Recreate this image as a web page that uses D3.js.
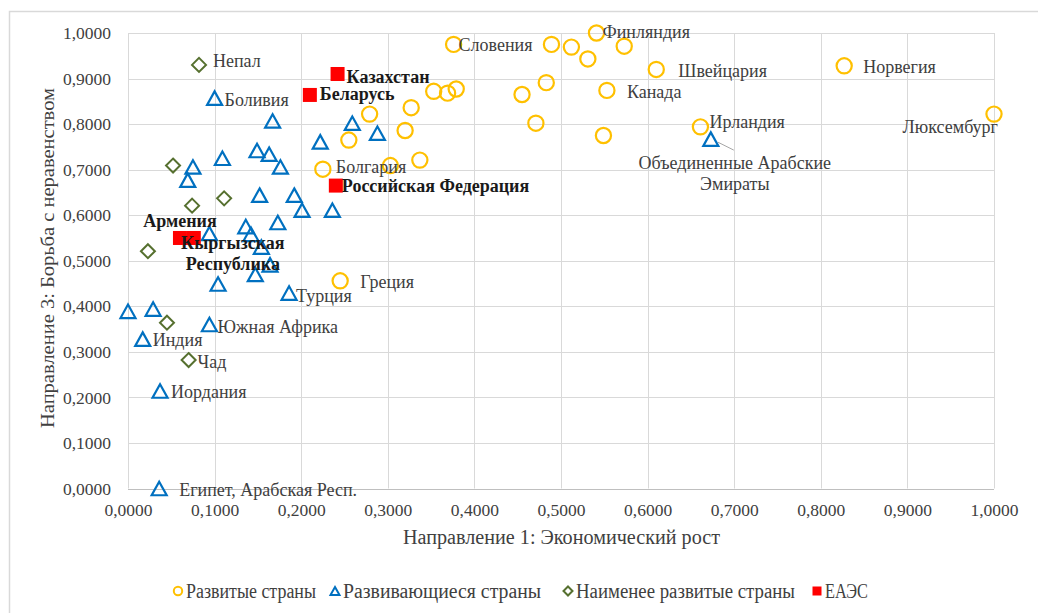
<!DOCTYPE html>
<html><head><meta charset="utf-8">
<script src="https://cdn.jsdelivr.net/npm/d3@7"></script>
<style>
html,body{margin:0;padding:0;background:#fff;}
svg{display:block;font-family:"Liberation Serif","Times New Roman",serif;}
</style></head>
<body>
<svg id="chart" width="1038" height="613"></svg>
<script>
// ---------- DATA ----------
const xTicks = [0,0.1,0.2,0.3,0.4,0.5,0.6,0.7,0.8,0.9,1.0];
const yTicks = [0,0.1,0.2,0.3,0.4,0.5,0.6,0.7,0.8,0.9,1.0];
const xTitle = "Направление  1: Экономический рост";
const yTitle = "Направление 3: Борьба с неравенством";
const seriesNames = ["Развитые страны","Развивающиеся страны","Наименее развитые страны","ЕАЭС"];

const developed = [
  {c:"Словения",x:0.376,y:0.975},{c:"",x:0.489,y:0.975},{c:"",x:0.512,y:0.969},
  {c:"",x:0.531,y:0.943},{c:"Финляндия",x:0.541,y:1.000},{c:"",x:0.573,y:0.971},
  {c:"Швейцария",x:0.610,y:0.920},{c:"Канада",x:0.553,y:0.874},{c:"",x:0.483,y:0.891},
  {c:"",x:0.455,y:0.865},{c:"",x:0.471,y:0.802},{c:"",x:0.549,y:0.775},
  {c:"",x:0.353,y:0.872},{c:"",x:0.369,y:0.868},{c:"",x:0.379,y:0.877},
  {c:"",x:0.327,y:0.836},{c:"",x:0.279,y:0.822},{c:"",x:0.320,y:0.786},
  {c:"",x:0.255,y:0.765},{c:"",x:0.337,y:0.721},{c:"",x:0.303,y:0.709},
  {c:"Болгария",x:0.225,y:0.701},{c:"Греция",x:0.245,y:0.456},
  {c:"Норвегия",x:0.827,y:0.928},{c:"Ирландия",x:0.661,y:0.794},{c:"Люксембург",x:1.000,y:0.822}
];
const developing = [
  {c:"Боливия",x:0.100,y:0.857},{c:"",x:0.167,y:0.807},{c:"",x:0.149,y:0.742},
  {c:"",x:0.163,y:0.734},{c:"",x:0.176,y:0.706},{c:"",x:0.109,y:0.725},
  {c:"",x:0.075,y:0.706},{c:"",x:0.069,y:0.677},{c:"",x:0.152,y:0.644},
  {c:"",x:0.192,y:0.644},{c:"",x:0.201,y:0.611},{c:"",x:0.236,y:0.611},
  {c:"",x:0.222,y:0.761},{c:"",x:0.259,y:0.802},{c:"",x:0.288,y:0.780},
  {c:"",x:0.173,y:0.584},{c:"",x:0.136,y:0.575},{c:"",x:0.094,y:0.560},
  {c:"",x:0.142,y:0.558},{c:"",x:0.154,y:0.530},{c:"",x:0.164,y:0.491},
  {c:"",x:0.147,y:0.470},{c:"",x:0.104,y:0.449},{c:"Турция",x:0.186,y:0.429},
  {c:"",x:0.000,y:0.389},{c:"",x:0.029,y:0.394},{c:"Южная Африка",x:0.094,y:0.360},
  {c:"Индия",x:0.017,y:0.328},{c:"Иордания",x:0.037,y:0.214},
  {c:"Египет, Арабская Респ.",x:0.036,y:0.000},
  {c:"Объединенные Арабские|Эмираты",x:0.673,y:0.767}
];
const leastDeveloped = [
  {c:"Непал",x:0.082,y:0.930},{c:"",x:0.052,y:0.709},{c:"",x:0.074,y:0.621},
  {c:"",x:0.111,y:0.637},{c:"",x:0.023,y:0.521},{c:"",x:0.045,y:0.364},
  {c:"Чад",x:0.070,y:0.282}
];
const eaeu = [
  {c:"Казахстан",x:0.242,y:0.910},{c:"Беларусь",x:0.210,y:0.864},
  {c:"Российская Федерация",x:0.240,y:0.665},{c:"Армения",x:0.060,y:0.550},
  {c:"Кыргызская|Республика",x:0.076,y:0.550}
];

// ---------- LABEL PLACEMENT (px offsets from point) ----------
const labelPlace = {
  "Словения":[5,0,"start"],"Финляндия":[6,-1,"start"],"Швейцария":[22,1,"start"],
  "Канада":[20,1,"start"],"Болгария":[13,-2,"start"],"Греция":[20,1,"start"],
  "Норвегия":[19,1,"start"],"Ирландия":[9,-5,"start"],"Люксембург":[4,13,"end"],
  "Боливия":[10,2,"start"],"Турция":[7,3,"start"],"Южная Африка":[8,2,"start"],
  "Индия":[10,1,"start"],"Иордания":[11,1,"start"],"Египет, Арабская Респ.":[20,1,"start"],
  "Объединенные Арабские|Эмираты":[24,24,"middle"],
  "Непал":[14,-4,"start"],"Чад":[9,2,"start"],
  "Казахстан":[9,3,"start"],"Беларусь":[10,-1,"start"],"Российская Федерация":[6,0,"start"],
  "Армения":[0,-17,"middle"],"Кыргызская|Республика":[39,5,"middle"]
};

// ---------- CHART ----------
const svg = d3.select("#chart");
const W = 1038, H = 613;
const m = {left:128, right:994, top:33, bottom:488.5};
const x = d3.scaleLinear().domain([0,1]).range([m.left, m.right]);
const y = d3.scaleLinear().domain([0,1]).range([m.bottom, m.top]);
const loc = d3.formatLocale({decimal:",", thousands:" ", grouping:[3], currency:["",""]});
const fmt = loc.format(".4f");

svg.append("rect").attr("x",0).attr("y",0).attr("width",W).attr("height",H).attr("fill","#fff");
svg.append("rect").attr("x",9.5).attr("y",11.5).attr("width",1040).attr("height",620)
  .attr("fill","none").attr("stroke","#D9D9D9").attr("stroke-width",1.5);

// grid
const grid = svg.append("g");
grid.selectAll("line.v").data(xTicks).join("line")
  .attr("x1",d=>Math.round(x(d))+0.5).attr("x2",d=>Math.round(x(d))+0.5)
  .attr("y1",y(1)).attr("y2",y(0)).attr("stroke","#D9D9D9").attr("stroke-width",1);
grid.selectAll("line.h").data(yTicks).join("line")
  .attr("y1",d=>Math.round(y(d))+0.5).attr("y2",d=>Math.round(y(d))+0.5)
  .attr("x1",x(0)).attr("x2",x(1)).attr("stroke",d=>d===0?"#BFBFBF":"#D9D9D9").attr("stroke-width",1);

// axes
const xAxis = svg.append("g").attr("transform",`translate(0,${m.bottom})`)
  .call(d3.axisBottom(x).tickValues(xTicks).tickFormat(fmt).tickSize(0).tickPadding(0));
xAxis.select(".domain").remove();
xAxis.selectAll("text").attr("y",22).attr("dy","0.32em")
  .attr("font-size",17.5).attr("fill","#404040").attr("font-family","Liberation Serif");

const yAxis = svg.append("g").attr("transform",`translate(${m.left},0)`)
  .call(d3.axisLeft(y).tickValues(yTicks).tickFormat(fmt).tickSize(0).tickPadding(17));
yAxis.select(".domain").remove();
yAxis.selectAll("text").attr("dy","0.32em")
  .attr("font-size",17.5).attr("fill","#404040").attr("font-family","Liberation Serif");

// titles
svg.append("text").attr("x",561.5).attr("y",537).attr("dy","0.35em").attr("text-anchor","middle")
  .attr("font-size",20).attr("fill","#404040")
  .attr("textLength",317).attr("lengthAdjust","spacingAndGlyphs").text(xTitle);
svg.append("text").attr("transform","translate(47,258) rotate(-90)").attr("dy","0.35em")
  .attr("text-anchor","middle").attr("font-size",19.5).attr("fill","#404040")
  .attr("textLength",340).attr("lengthAdjust","spacingAndGlyphs").text(yTitle);

// marker shapes
const colDev = "#FFC000", colDevg = "#0070C0", colLd = "#56702F", colEa = "#FF0000";
function triPath(s){ const h=s*0.9; return `M0,${-h/2}L${s/2},${h/2}L${-s/2},${h/2}Z`; }
function diaPath(s){ return `M0,${-s}L${s},0L0,${s}L${-s},0Z`; }

const marks = svg.append("g");
marks.selectAll("circle.dev").data(developed).join("circle")
  .attr("cx",d=>x(d.x)).attr("cy",d=>y(d.y)).attr("r",7.6)
  .attr("fill","none").attr("stroke",colDev).attr("stroke-width",2.2);
marks.selectAll("path.devg").data(developing).join("path")
  .attr("transform",d=>`translate(${x(d.x)},${y(d.y)})`).attr("d",triPath(15))
  .attr("fill","none").attr("stroke",colDevg).attr("stroke-width",2.2).attr("stroke-linejoin","miter");
marks.selectAll("path.ld").data(leastDeveloped).join("path")
  .attr("transform",d=>`translate(${x(d.x)},${y(d.y)})`).attr("d",diaPath(7))
  .attr("fill","none").attr("stroke",colLd).attr("stroke-width",2);
marks.selectAll("rect.ea").data(eaeu).join("rect")
  .attr("x",d=>x(d.x)-7).attr("y",d=>y(d.y)-7).attr("width",14).attr("height",14)
  .attr("fill",colEa);

// leader line for UAE
const uae = developing.find(d=>d.c.startsWith("Объединенные"));
svg.append("line").attr("x1",x(uae.x)+7).attr("y1",y(uae.y)+3)
  .attr("x2",x(uae.x)+23).attr("y2",y(uae.y)+11).attr("stroke","#A6A6A6").attr("stroke-width",1);

// labels
const labG = svg.append("g");
function addLabels(arr, bold){
  arr.filter(d=>d.c).forEach(d=>{
    const p = labelPlace[d.c] || [10,0,"start"];
    const lines = d.c.split("|");
    const t = labG.append("text").attr("x",x(d.x)+p[0]).attr("y",y(d.y)+p[1])
      .attr("text-anchor",p[2]).attr("font-size",18)
      .attr("font-weight",bold?"bold":"normal").attr("fill",bold?"#1a1a1a":"#404040");
    lines.forEach((ln,i)=>{
      t.append("tspan").attr("x",x(d.x)+p[0]).attr("dy",i===0?"0.35em":"1.15em").text(ln);
    });
  });
}
addLabels(developed,false);
addLabels(developing,false);
addLabels(leastDeveloped,false);
addLabels(eaeu,true);

// legend
const legY = 591;
const legItems = [
  {name:seriesNames[0], mx:178, tx:186, tl:130, type:"circle", col:colDev},
  {name:seriesNames[1], mx:335, tx:343, tl:198, type:"tri", col:colDevg},
  {name:seriesNames[2], mx:568, tx:576, tl:219, type:"dia", col:colLd},
  {name:seriesNames[3], mx:817, tx:825, tl:43, type:"sq", col:colEa}
];
const leg = svg.append("g");
legItems.forEach(it=>{
  if(it.type==="circle") leg.append("circle").attr("cx",it.mx).attr("cy",legY).attr("r",4.2)
      .attr("fill","none").attr("stroke",it.col).attr("stroke-width",2);
  if(it.type==="tri") leg.append("path").attr("transform",`translate(${it.mx},${legY})`).attr("d",triPath(9))
      .attr("fill","none").attr("stroke",it.col).attr("stroke-width",2);
  if(it.type==="dia") leg.append("path").attr("transform",`translate(${it.mx},${legY})`).attr("d",diaPath(4.5))
      .attr("fill","none").attr("stroke",it.col).attr("stroke-width",2);
  if(it.type==="sq") leg.append("rect").attr("x",it.mx-4.5).attr("y",legY-4.5).attr("width",9).attr("height",9)
      .attr("fill",it.col);
  leg.append("text").attr("x",it.tx).attr("y",legY).attr("dy","0.35em").attr("font-size",20)
    .attr("fill","#404040").attr("textLength",it.tl).attr("lengthAdjust","spacingAndGlyphs").text(it.name);
});
</script>
</body></html>
